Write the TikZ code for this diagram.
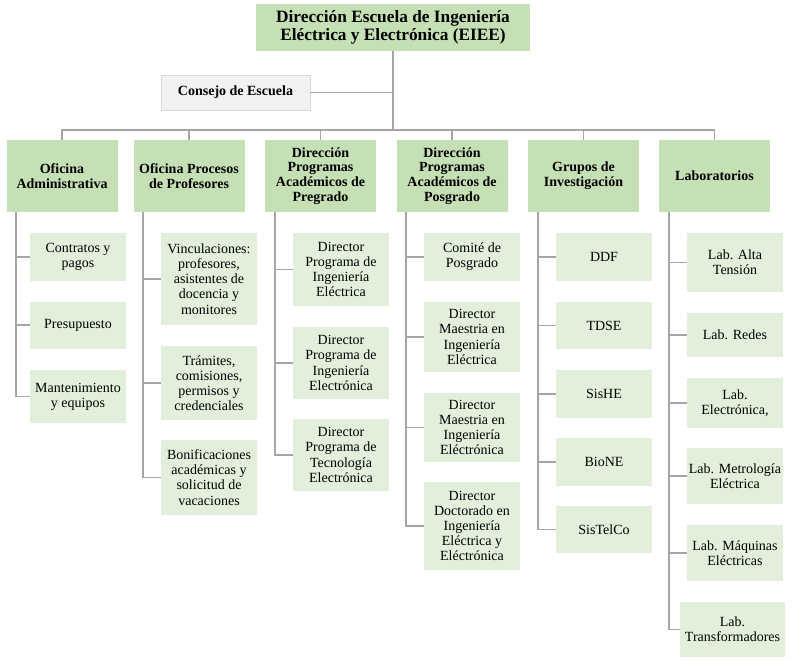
\documentclass[tikz,border=0pt]{standalone}
\usepackage{fontspec}
\setmainfont{Liberation Serif}
\definecolor{headgreen}{HTML}{C5E0B4}
\definecolor{subgreen}{HTML}{E2EFDA}
\definecolor{linegray}{HTML}{A6A6A6}
\definecolor{boardgray}{HTML}{F2F2F2}
\tikzset{
  box/.style={inner sep=0pt, align=center, anchor=center},
  headbox/.style={box, fill=headgreen, minimum width=111pt, minimum height=72pt,
    font=\bfseries\fontsize{14}{14.7}\selectfont},
  subbox/.style={box, fill=subgreen, minimum width=96pt,
    font=\fontsize{14}{15.2}\selectfont},
  link/.style={draw=linegray, line width=1.8pt},
}
\begin{document}
\begin{tikzpicture}[x=1pt, y=-1pt]
  \useasboundingbox[fill=white] (0,0) rectangle (793,661);

  % Top of the chart
  \node[box, fill=headgreen, minimum width=274pt, minimum height=47pt,
    font=\bfseries\fontsize{17.3}{18.3}\selectfont] (top) at (393,27.5)
    {Dirección Escuela de Ingeniería\\Eléctrica y Electrónica (EIEE)};
  \node[box, fill=boardgray, draw=black!15, minimum width=149pt, minimum height=35pt,
    font=\bfseries\fontsize{14}{15}\selectfont] (consejo) at (235.5,92.5) {Consejo de Escuela};
  \coordinate (bus) at (393,130);

  % Column heads
  \node[headbox] (h1) at (62,176)    {Oficina\\Administrativa};
  \node[headbox] (h2) at (189,176)   {Oficina Procesos\\de Profesores};
  \node[headbox] (h3) at (320.5,176) {Dirección\\Programas\\Académicos de\\Pregrado};
  \node[headbox] (h4) at (452,176)   {Dirección\\Programas\\Académicos de\\Posgrado};
  \node[headbox] (h5) at (583.5,176) {Grupos de\\Investigación};
  \node[headbox] (h6) at (714.5,176) {Laboratorios};

  % Oficina Administrativa
  \node[subbox, minimum height=48pt] (c1a) at (78,257) {Contratos y\\pagos};
  \node[subbox, minimum height=47pt] (c1b) at (78,325) {Presupuesto};
  \node[subbox, minimum height=53pt] (c1c) at (78,396.5) {Mantenimiento\\y equipos};

  % Oficina Procesos de Profesores
  \node[subbox, minimum height=92pt] (c2a) at (209,279) {Vinculaciones:\\profesores,\\asistentes de\\docencia y\\monitores};
  \node[subbox, minimum height=74pt] (c2b) at (209,383) {Trámites,\\comisiones,\\permisos y\\credenciales};
  \node[subbox, minimum height=75pt] (c2c) at (209,477.5) {Bonificaciones\\académicas y\\solicitud de\\vacaciones};

  % Pregrado
  \node[subbox, minimum height=73pt] (c3a) at (341,269.5) {Director\\Programa de\\Ingeniería\\Eléctrica};
  \node[subbox, minimum height=72pt] (c3b) at (341,363) {Director\\Programa de\\Ingeniería\\Electrónica};
  \node[subbox, minimum height=72pt] (c3c) at (341,455) {Director\\Programa de\\Tecnología\\Electrónica};

  % Posgrado
  \node[subbox, minimum height=48pt] (c4a) at (472,257) {Comité de\\Posgrado};
  \node[subbox, minimum height=70pt] (c4b) at (472,337) {Director\\Maestria en\\Ingeniería\\Eléctrica};
  \node[subbox, minimum height=69pt] (c4c) at (472,427.5) {Director\\Maestria en\\Ingeniería\\Eléctrónica};
  \node[subbox, minimum height=88pt] (c4d) at (472,526) {Director\\Doctorado en\\Ingeniería\\Eléctrica y\\Eléctrónica};

  % Grupos de Investigacion
  \node[subbox, minimum height=48pt] (c5a) at (604,257) {DDF};
  \node[subbox, minimum height=47pt] (c5b) at (604,325.5) {TDSE};
  \node[subbox, minimum height=48pt] (c5c) at (604,394) {SisHE};
  \node[subbox, minimum height=48pt] (c5d) at (604,462) {BioNE};
  \node[subbox, minimum height=47pt] (c5e) at (604,529.5) {SisTelCo};

  % Laboratorios
  \node[subbox, minimum height=59pt] (c6a) at (735,262.5) {Lab. Alta\\Tensión};
  \node[subbox, minimum height=44pt] (c6b) at (735,335) {Lab. Redes};
  \node[subbox, minimum height=50pt] (c6c) at (735,403) {Lab.\\Electrónica,};
  \node[subbox, minimum height=56pt] (c6d) at (735,476) {Lab. Metrología\\Eléctrica};
  \node[subbox, minimum height=56pt] (c6e) at (735,553) {Lab. Máquinas\\Eléctricas};
  \node[subbox, minimum width=105pt, minimum height=55pt] (c6f) at (732.5,629.5) {Lab.\\Transformadores};

  % Connectors
  \draw[link] (top.south) -- (bus);
  \draw[link] (consejo.east) -- (consejo.east -| top.south);
  \foreach \h in {h1,h2,h3,h4,h5,h6}
    \draw[link] (bus) -| (\h.north);
  \foreach \h/\list in {h1/{c1a,c1b,c1c}, h2/{c2a,c2b,c2c}, h3/{c3a,c3b,c3c},
      h4/{c4a,c4b,c4c,c4d}, h5/{c5a,c5b,c5c,c5d,c5e}, h6/{c6a,c6b,c6c,c6d,c6e,c6f}}
    \foreach \c in \list
      \draw[link] (\h.south west) ++(10,0) |- (\c.west);
\end{tikzpicture}
\end{document}
